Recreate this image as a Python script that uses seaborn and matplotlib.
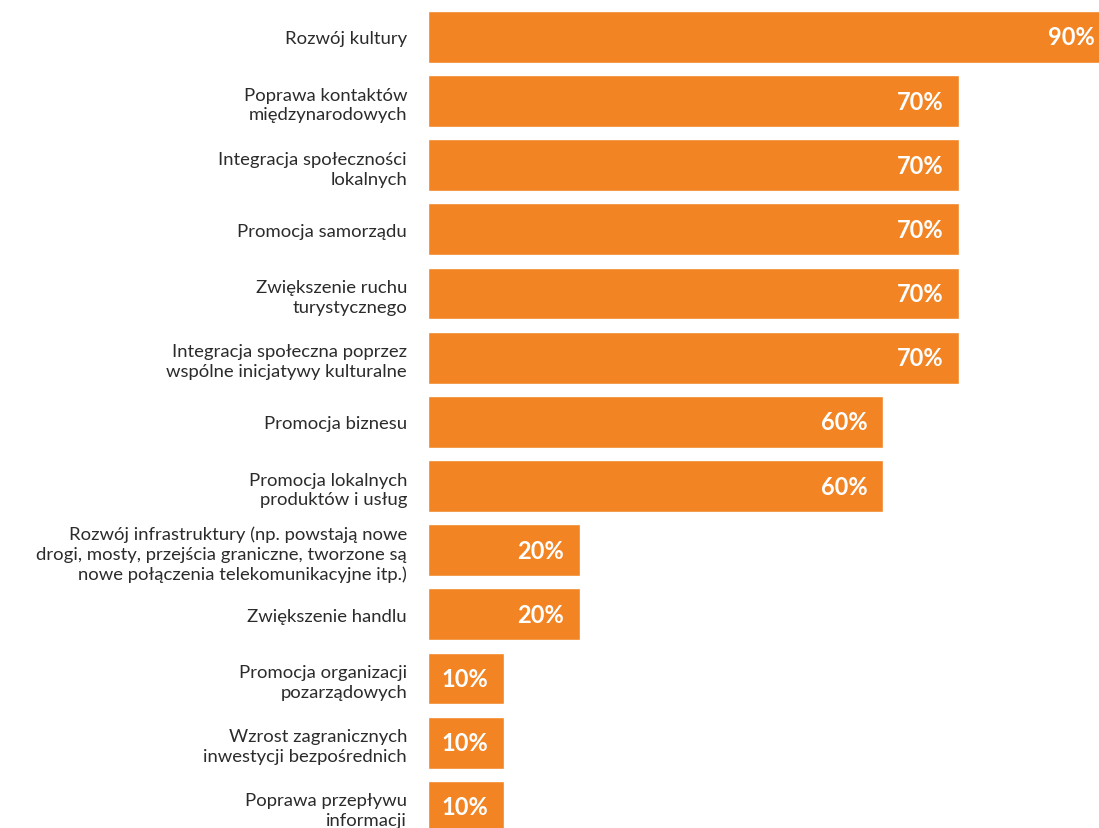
import pandas as pd
import matplotlib.pyplot as plt
import seaborn as sns

# Chart data
categories = [
    'Rozwój kultury',
    'Poprawa kontaktów\nmiędzynarodowych',
    'Integracja społeczności\nlokalnych',
    'Promocja samorządu',
    'Zwiększenie ruchu\nturystycznego',
    'Integracja społeczna poprzez\nwspólne inicjatywy kulturalne',
    'Promocja biznesu',
    'Promocja lokalnych\nproduktów i usług',
    'Rozwój infrastruktury (np. powstają nowe\ndrogi, mosty, przejścia graniczne, tworzone są\nnowe połączenia telekomunikacyjne itp.)',
    'Zwiększenie handlu',
    'Promocja organizacji\npozarządowych',
    'Wzrost zagranicznych\ninwestycji bezpośrednich',
    'Poprawa przepływu\ninformacji',
]
values = [90, 70, 70, 70, 70, 70, 60, 60, 20, 20, 10, 10, 10]

df = pd.DataFrame({'category': categories, 'value': values})

sns.set_style('white')
plt.rcParams['font.family'] = ['Lato', 'DejaVu Sans']

fig = plt.figure(figsize=(10.99, 8.29), dpi=100)
ax = fig.add_axes([0.3894, 0.0, 0.6106, 1.0])

sns.barplot(data=df, x='value', y='category', orient='h', color='#F28424',
            saturation=1, width=0.81, ax=ax)

ax.set_xlim(0, 88.5)
ax.set_ylim(12.33, -0.59)
ax.set_xlabel('')
ax.set_ylabel('')
ax.set_xticks([])
sns.despine(ax=ax, left=True, bottom=True)
ax.tick_params(axis='y', length=0, pad=15, labelsize=13.3, labelcolor='#2b2b2b')
for lbl in ax.get_yticklabels():
    lbl.set_multialignment('right')
    lbl.set_linespacing(1.3)

# Value labels inside the bars
for i, v in enumerate(values):
    ax.annotate(f'{v}%', xy=(v, i), xytext=(-11, 0), textcoords='offset points',
                ha='right', va='center', color='white', fontsize=17,
                fontweight='bold', annotation_clip=False)

fig.savefig('out.png', dpi=100)
